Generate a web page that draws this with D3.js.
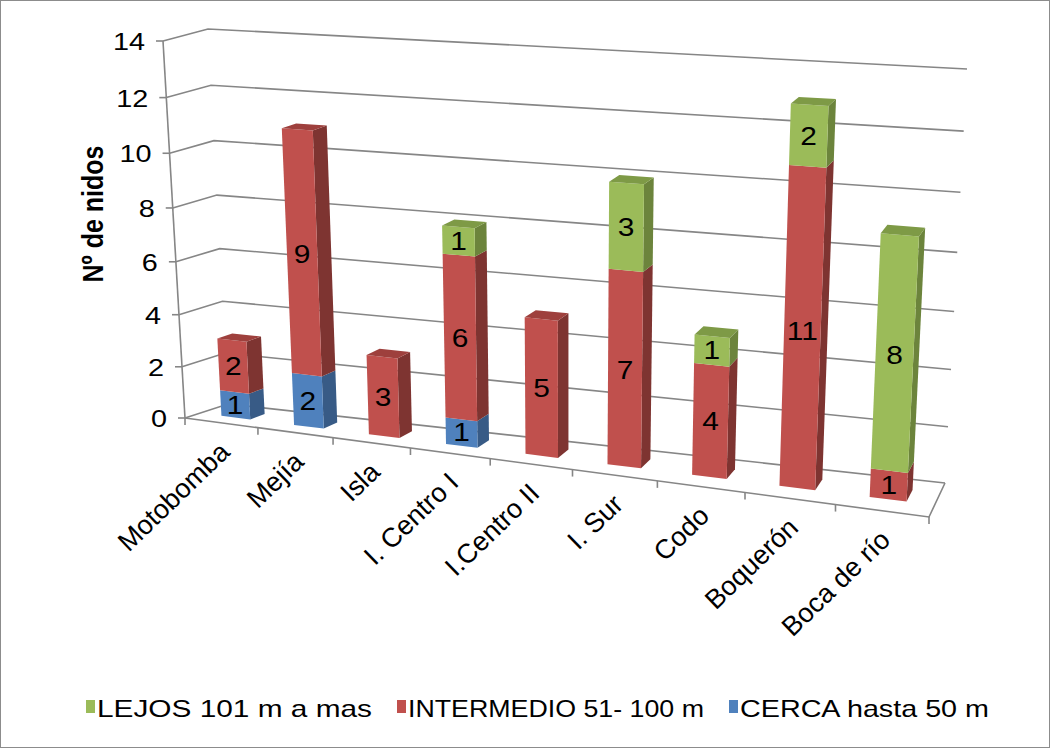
<!DOCTYPE html>
<html>
<head>
<meta charset="utf-8">
<script src="https://cdn.jsdelivr.net/npm/d3@7"></script>
<style>
  html, body { margin: 0; padding: 0; background: #fff; }
  svg text { font-family: Arial, "Liberation Sans", sans-serif; fill: #000; }
</style>
</head>
<body>
<svg id="chart" width="1051" height="749"></svg>
<script>
// Nests per site, split by distance class
const categories = ["Motobomba", "Mejía", "Isla", "I. Centro I", "I.Centro II", "I. Sur", "Codo", "Boquerón", "Boca de río"];
const cerca      = [1, 2, 0, 1, 0, 0, 0, 0, 0];
const intermedio = [2, 9, 3, 6, 5, 7, 4, 11, 1];
const lejos      = [0, 0, 0, 1, 0, 3, 1, 2, 8];
const seriesNames = ["CERCA hasta 50 m", "INTERMEDIO 51- 100 m", "LEJOS 101 m a mas"];
const legendOrder = ["LEJOS 101 m a mas", "INTERMEDIO 51- 100 m", "CERCA hasta 50 m"];
const yTicks = [0, 2, 4, 6, 8, 10, 12, 14];
const yTitle = "Nº de nidos";

const colors = {
  "CERCA hasta 50 m":     { front: "#4F81BD", side: "#385B86", top: "#45719F" },
  "INTERMEDIO 51- 100 m": { front: "#C0504D", side: "#7E3431", top: "#9E403D" },
  "LEJOS 101 m a mas":    { front: "#9BBB59", side: "#6C843C", top: "#7E9A46" }
};

const svg = d3.select("#chart");
svg.append("rect").attr("x", 0.5).attr("y", 0.5).attr("width", 1049).attr("height", 747)
  .attr("fill", "#fff").attr("stroke", "#8c8c8c").attr("stroke-width", 1);

// screen corners of the plot cube (front/back, left/right, bottom/top)
const C = {
  FLB: [185, 418], FRB: [929, 517], BLB: [228, 404], BRB: [945, 483],
  FLT: [163, 41],  FRT: [950, 89],  BLT: [208, 29],  BRT: [967, 69]
};
const n = categories.length;
const xPos = d3.scaleLinear().domain([0, n]).range([0, 1]);
const yScale = d3.scaleLinear().domain([0, 14]).range([0, 1]);
const band = d3.scaleBand().domain(d3.range(n)).range([0, n]).paddingInner(0.6).paddingOuter(0.3);
const warp = (t, k) => t / (1 + k * (1 - t));   // perspective foreshortening
const lerp = (a, b, s) => [a[0] + (b[0] - a[0]) * s, a[1] + (b[1] - a[1]) * s];

function proj(cx, val, w) {
  const u = warp(xPos(cx), 0.15), t = warp(yScale(val), 0.06);
  const fb = lerp(C.FLB, C.FRB, u), ft = lerp(C.FLT, C.FRT, u);
  const bb = lerp(C.BLB, C.BRB, u), bt = lerp(C.BLT, C.BRT, u);
  return lerp(lerp(fb, ft, t), lerp(bb, bt, t), w);
}

const line = d3.line();
const grid = svg.append("g").attr("fill", "none").attr("stroke", "#868686").attr("stroke-width", 1.6);

// gridlines on side and back walls
yTicks.forEach(v => {
  grid.append("path").attr("d", line([proj(0, v, 0), proj(0, v, 1), proj(n, v, 1)]));
});
// floor front edge and right edge
grid.append("path").attr("d", line([proj(0, 0, 0), proj(n, 0, 0), proj(n, 0, 1)]));
// value axis
grid.append("path").attr("d", line([proj(0, 0, 0), proj(0, 14, 0)]));
yTicks.forEach(v => {
  const p = proj(0, v, 0);
  grid.append("path").attr("d", line([[p[0] - 7, p[1]], p]));
});
// category ticks
d3.range(n + 1).forEach(i => {
  const p = proj(i, 0, 0);
  grid.append("path").attr("d", line([p, [p[0], p[1] + 7]]));
});

// value tick labels
svg.append("g").selectAll("text").data(yTicks).join("text")
  .attr("transform", v => { const p = proj(0, v, 0); return `translate(${p[0] - 18},${p[1] + 1}) scale(1.2,1)`; })
  .attr("text-anchor", "end").attr("dominant-baseline", "central")
  .attr("font-size", 24).text(v => v);

// axis title
svg.append("text")
  .attr("transform", "translate(93,214) scale(1.2,1) rotate(-90)")
  .attr("text-anchor", "middle").attr("dominant-baseline", "central")
  .attr("font-size", 25).attr("font-weight", "bold").text(yTitle);

// category labels
svg.append("g").selectAll("text").data(categories).join("text")
  .attr("transform", (d, i) => { const p = proj(i + 0.5, 0, 0); return `translate(${p[0] + 10},${p[1] + 31}) rotate(-44)`; })
  .attr("text-anchor", "end").attr("font-size", 27).text(d => d);

// stacked columns
const stackData = categories.map((c, i) => ({ cat: c, i, "CERCA hasta 50 m": cerca[i], "INTERMEDIO 51- 100 m": intermedio[i], "LEJOS 101 m a mas": lejos[i] }));
const stacked = d3.stack().keys(seriesNames)(stackData);
const w0 = 0.35, w1 = 0.7;
const bars = svg.append("g");
const labels = [];
categories.forEach((c, i) => {
  const segs = stacked.map(s => ({ key: s.key, y0: s[i][0], y1: s[i][1] })).filter(s => s.y1 > s.y0);
  const x0 = band(i), x1 = band(i) + band.bandwidth();
  segs.forEach((s, k) => {
    const col = colors[s.key];
    const g = bars.append("g");
    g.append("path").attr("fill", col.side)
      .attr("d", line([proj(x1, s.y0, w0), proj(x1, s.y0, w1), proj(x1, s.y1, w1), proj(x1, s.y1, w0)]) + "Z");
    g.append("path").attr("fill", col.front)
      .attr("d", line([proj(x0, s.y0, w0), proj(x1, s.y0, w0), proj(x1, s.y1, w0), proj(x0, s.y1, w0)]) + "Z");
    if (k === segs.length - 1) {
      g.append("path").attr("fill", col.top)
        .attr("d", line([proj(x0, s.y1, w0), proj(x1, s.y1, w0), proj(x1, s.y1, w1), proj(x0, s.y1, w1)]) + "Z");
    }
    labels.push({ p: proj((x0 + x1) / 2, (s.y0 + s.y1) / 2, w0), v: s.y1 - s.y0 });
  });
});
svg.append("g").selectAll("text").data(labels).join("text")
  .attr("transform", d => `translate(${d.p[0]},${d.p[1]}) scale(1.15,1)`)
  .attr("text-anchor", "middle").attr("dominant-baseline", "central")
  .attr("font-size", 26).text(d => d.v);

// legend
const legX = [86, 397, 729];
const legLen = [275, 296, 249];
const leg = svg.append("g");
legendOrder.forEach((name, j) => {
  leg.append("rect").attr("x", legX[j]).attr("y", 700).attr("width", 9).attr("height", 13).attr("fill", colors[name].front);
  leg.append("text").attr("x", legX[j] + 11).attr("y", 717).attr("font-size", 24)
    .attr("textLength", legLen[j]).attr("lengthAdjust", "spacingAndGlyphs").text(name);
});
</script>
</body>
</html>
